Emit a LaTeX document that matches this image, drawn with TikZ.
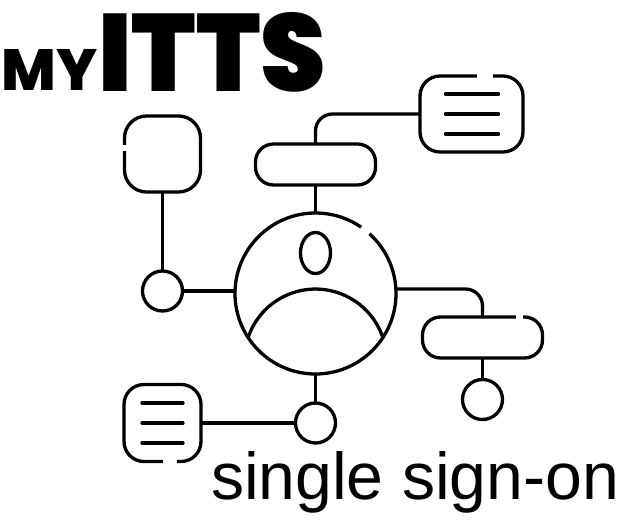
\documentclass[tikz,border=0pt]{standalone}
\usepackage{fontspec}
\usepackage{graphicx}
\usetikzlibrary{shapes.geometric}
\newfontfamily\logofont{Poppins}[UprightFont=* Black]
\newfontfamily\smallfont{Poppins}[UprightFont=* ExtraBold]
\newfontfamily\tagfont{Liberation Sans}
\tikzset{
  shp/.style={draw=black,line width=3.3pt,fill=white,inner sep=0pt,outer sep=0pt},
  box/.style={shp,rectangle,rounded corners=#1},
  dot/.style={shp,circle,minimum size=40pt},
  wire/.style={draw=black,line width=3.3pt},
  gap/.style={draw=white,line width=6pt},
  rule/.style={draw=black,line width=3.3pt,line cap=round},
  txt/.style={inner sep=0pt,outer sep=0pt,anchor=base west,text=black}
}
\begin{document}
\begin{tikzpicture}[x=1pt,y=-1pt]
\useasboundingbox (0,0) rectangle (619,530);
% nodes
\node[box=22pt,minimum width=76pt,minimum height=76pt] (sq) at (162.5,154) {};
\node[box=18pt,minimum width=120pt,minimum height=41pt] (pillT) at (315.5,164.5) {};
\node[box=20pt,minimum width=103pt,minimum height=76pt] (cardT) at (471.5,114) {};
\node[shp,circle,minimum size=161pt] (main) at (315.5,293.5) {};
\node[shp,ellipse,minimum width=30pt,minimum height=41pt] (head) at (315.5,253) {};
\node[dot] (dotL) at (162.5,291) {};
\node[box=18pt,minimum width=120pt,minimum height=41pt] (pillR) at (482.5,337.5) {};
\node[dot] (dotR) at (482.5,399.5) {};
\node[dot] (dotB) at (315.5,423) {};
\node[box=20pt,minimum width=77pt,minimum height=77pt] (cardB) at (162.5,423) {};
% connectors
\draw[wire,rounded corners=17pt] (cardT.west) -| (pillT.north);
\draw[wire] (pillT.south) -- (main.north);
\draw[wire] (sq.south) -- (dotL.north);
\draw[wire] (dotL.east) -- (dotL.east -| main.west);
\draw[wire,rounded corners=17pt] (main.east |- 0,289) -| (pillR.north);
\draw[wire] (pillR.south) -- (dotR.north);
\draw[wire] (main.south) -- (dotB.north);
\draw[wire] (cardB.east) -- (dotB.west);
% person body
\coordinate (bodyL) at (248,338);
\draw[wire] (bodyL) arc[start angle=161.9,end angle=18.1,radius=71pt];
% gaps in outlines
\draw[gap] (sq.west |- 0,145) -- (sq.west |- 0,151);
\draw[gap] (477,76) -- (493,76);
\draw[gap] (516,317) -- (523,317);
\draw[gap] (163,461.5) -- (177,461.5);
\draw[gap] (361.5,227) -- (369.5,233.5);
% text rules
\foreach \y in {94,114,134} \draw[rule] (445.5,\y) -- (498.5,\y);
\foreach \y in {403,423,443} \draw[rule] (142,\y) -- (183,\y);
% labels
\node[txt] (my) at (1.5,90) {\resizebox{96pt}{41pt}{\smallfont MY}};
\node[txt] (itts) at (98,91) {\resizebox{228pt}{79pt}{\logofont ITTS}};
\node[txt] (sso) at (211,499.5) {\resizebox{408pt}{48pt}{\tagfont single sign-on}};
\end{tikzpicture}
\end{document}
